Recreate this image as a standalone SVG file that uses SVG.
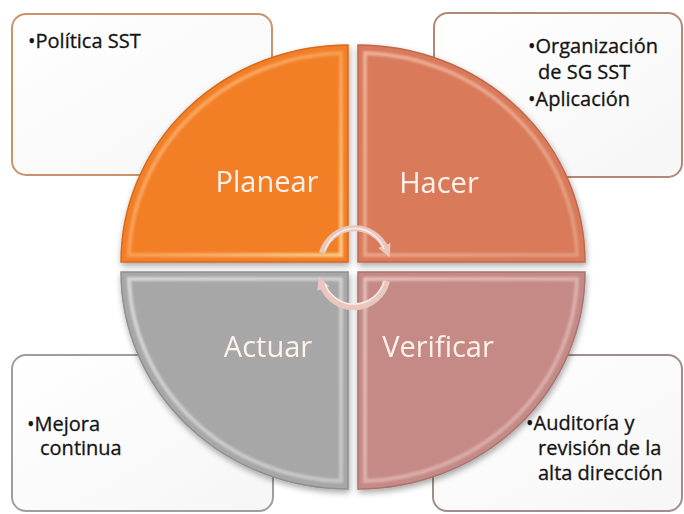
<svg xmlns="http://www.w3.org/2000/svg" width="684" height="514" viewBox="0 0 684 514">
  <style>
    .box { fill: url(#boxFill); stroke-width: 2; }
    .btxt { font-family: "Open Sans", "Liberation Sans", sans-serif; font-size: 20px; fill: #141414; stroke: #141414; stroke-width: 0.3; }
    .qlbl { font-family: "Open Sans", "Liberation Sans", sans-serif; font-size: 29px; fill: #fff2ea; text-anchor: middle; }
    .bevel { fill: none; stroke-width: 4; opacity: 0.75; }
    .cyc { fill: none; stroke: #eac6bf; stroke-width: 6; }
    .cycHi { fill: none; stroke: #fbeeea; stroke-width: 1.5; }
  </style>
  <defs>
    <linearGradient id="boxFill" x1="0" y1="0" x2="1" y2="1">
      <stop offset="0" stop-color="#ffffff"/>
      <stop offset="1" stop-color="#f6f6f6"/>
    </linearGradient>
    <linearGradient id="gPlan" x1="0" y1="0" x2="1" y2="1">
      <stop offset="0" stop-color="#fcc98a"/>
      <stop offset="0.5" stop-color="#f9a760"/>
      <stop offset="1" stop-color="#fde4a4"/>
    </linearGradient>
    <linearGradient id="gHac" x1="0" y1="0" x2="1" y2="1">
      <stop offset="0" stop-color="#f3c1ab"/>
      <stop offset="1" stop-color="#e7a184"/>
    </linearGradient>
    <linearGradient id="gAct" x1="0" y1="0" x2="1" y2="1">
      <stop offset="0" stop-color="#e4e4e4"/>
      <stop offset="1" stop-color="#d0d0d0"/>
    </linearGradient>
    <linearGradient id="gVer" x1="0" y1="0" x2="1" y2="1">
      <stop offset="0" stop-color="#ecccc8"/>
      <stop offset="1" stop-color="#dcaeaa"/>
    </linearGradient>
    <filter id="shadow" x="-10%" y="-10%" width="120%" height="120%">
      <feGaussianBlur in="SourceAlpha" stdDeviation="3"/>
      <feOffset dx="1" dy="3" result="b"/>
      <feComponentTransfer><feFuncA type="linear" slope="0.35"/></feComponentTransfer>
      <feMerge><feMergeNode/><feMergeNode in="SourceGraphic"/></feMerge>
    </filter>
    <filter id="soft"><feGaussianBlur stdDeviation="1"/></filter>
    <marker id="head" viewBox="0 0 10 10" refX="3" refY="5" markerWidth="2.2" markerHeight="2.2" orient="auto">
      <path d="M0,0 L10,5 L0,10 Z" fill="#eac6bf"/>
    </marker>
  </defs>

  <rect width="684" height="514" fill="#ffffff"/>

  <!-- Text boxes -->
  <g id="box-planear">
    <rect class="box" x="12" y="14" width="260" height="161" rx="14" stroke="#c9946c"/>
    <text class="btxt" x="28" y="48">•Política SST</text>
  </g>
  <g id="box-hacer">
    <rect class="box" x="434" y="13" width="248" height="164" rx="14" stroke="#b48878"/>
    <text class="btxt" x="528" y="53">•Organización</text>
    <text class="btxt" x="538" y="79">de SG SST</text>
    <text class="btxt" x="528" y="106">•Aplicación</text>
  </g>
  <g id="box-actuar">
    <rect class="box" x="12" y="355" width="261" height="156" rx="14" stroke="#9e9e9e"/>
    <text class="btxt" x="27" y="431">•Mejora</text>
    <text class="btxt" x="40" y="455">continua</text>
  </g>
  <g id="box-verificar">
    <rect class="box" x="433" y="355" width="249" height="156" rx="14" stroke="#a08e8c"/>
    <text class="btxt" x="526" y="430">•Auditoría y</text>
    <text class="btxt" x="538" y="455">revisión de la</text>
    <text class="btxt" x="538" y="480">alta dirección</text>
  </g>

  <!-- Quadrants -->
  <g filter="url(#shadow)">
    <g id="q-planear">
      <path d="M348,262 L121,262 A227,217 0 0 1 348,45 Z" fill="#f27f28" stroke="#d86a1e" stroke-width="1.5"/>
      <path class="bevel" d="M341,255 L129,255 A219,209 0 0 1 341,53 Z" stroke="url(#gPlan)" filter="url(#soft)"/>
      <text class="qlbl" x="267" y="192">Planear</text>
    </g>
    <g id="q-hacer">
      <path d="M358,262 L358,45 A227,217 0 0 1 585,262 Z" fill="#d97a5a" stroke="#c1684a" stroke-width="1.5"/>
      <path class="bevel" d="M365,255 L365,53 A219,209 0 0 1 577,255 Z" stroke="url(#gHac)" filter="url(#soft)"/>
      <text class="qlbl" x="439" y="193">Hacer</text>
    </g>
    <g id="q-verificar">
      <path d="M358,272 L585,272 A227,217 0 0 1 358,489 Z" fill="#c58a86" stroke="#a87470" stroke-width="1.5"/>
      <path class="bevel" d="M365,279 L577,279 A219,209 0 0 1 365,481 Z" stroke="url(#gVer)" filter="url(#soft)"/>
      <text class="qlbl" x="438" y="357">Verificar</text>
    </g>
    <g id="q-actuar">
      <path d="M348,272 L348,489 A227,217 0 0 1 121,272 Z" fill="#a7a7a7" stroke="#8f8f8f" stroke-width="1.5"/>
      <path class="bevel" d="M341,279 L341,481 A219,209 0 0 1 129,279 Z" stroke="url(#gAct)" filter="url(#soft)"/>
      <text class="qlbl" x="268" y="357">Actuar</text>
    </g>
  </g>

  <!-- Cycle arrows -->
  <g id="connectors">
    <path class="cyc" d="M322,253 A34,34 0 0 1 386,249" marker-end="url(#head)"/>
    <path class="cycHi" d="M325,251 A31,31 0 0 1 384,249"/>
    <path class="cyc" d="M387,281 A34,34 0 0 1 322,285" marker-end="url(#head)"/>
    <path class="cycHi" d="M384,281 A31,31 0 0 1 325,284"/>
  </g>
</svg>
